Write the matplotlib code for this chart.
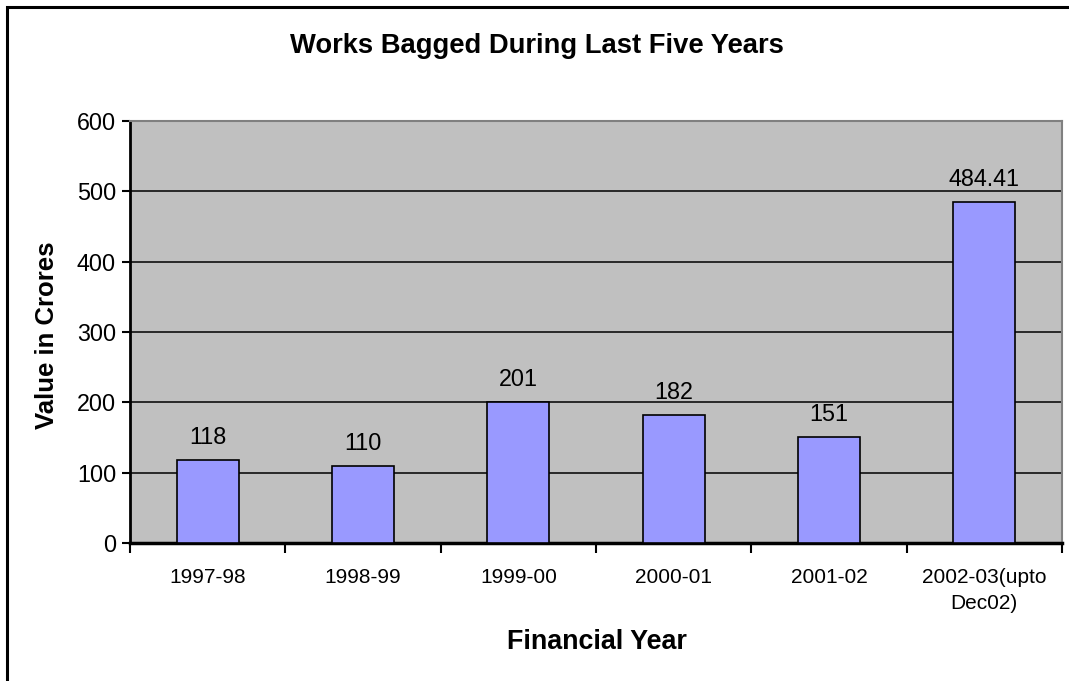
import matplotlib
matplotlib.use('Agg')
import matplotlib.pyplot as plt
from matplotlib.patches import Rectangle
from matplotlib.ticker import FixedLocator

years = ['1997-98', '1998-99', '1999-00', '2000-01', '2001-02', '2002-03(upto\nDec02)']
values = [118, 110, 201, 182, 151, 484.41]
value_labels = ['118', '110', '201', '182', '151', '484.41']
yticks = [0, 100, 200, 300, 400, 500, 600]

plt.rcParams['font.family'] = ['Liberation Sans', 'DejaVu Sans']

W, H = 1069, 681
fig = plt.figure(figsize=(W / 100, H / 100), dpi=100)
fig.patch.set_facecolor('white')

# outer chart border (cropped on right and bottom in the original)
fig.patches.append(Rectangle((6.5 / W, -0.05), 1.1, 1 - 7 / H + 0.05, transform=fig.transFigure,
                             fill=False, edgecolor='black', linewidth=2.2, zorder=0))

ax = fig.add_axes([130 / W, 1 - 543 / H, (1062 - 130) / W, (543 - 121) / H])
ax.set_facecolor('#C0C0C0')

x = list(range(len(years)))
ax.bar(x, values, width=0.4, color='#9999FF', edgecolor='black', linewidth=1.2, zorder=3)

for xi, v, lab in zip(x, values, value_labels):
    ax.annotate(lab, (xi, v), xytext=(0, 8), textcoords='offset points',
                ha='center', va='bottom', fontsize=16.8, zorder=4)

ax.set_xlim(-0.5, len(years) - 0.5)
ax.set_ylim(0, 600)
ax.set_yticks(yticks)
ax.tick_params(axis='y', labelsize=16.8, length=6, width=1.5, direction='out', pad=4)

# ticks at category boundaries, labels at centres
ax.xaxis.set_major_locator(FixedLocator([i - 0.5 for i in range(len(years) + 1)]))
ax.set_xticklabels([])
ax.set_xticks(x, minor=True)
ax.set_xticklabels(years, minor=True, fontsize=15, linespacing=1.45)
ax.tick_params(axis='x', which='major', length=7, width=1.5, direction='out')
ax.tick_params(axis='x', which='minor', length=0, pad=18)

ax.yaxis.grid(True, color='black', linewidth=1.1, zorder=1)
ax.set_axisbelow(True)

ax.spines['left'].set_linewidth(2)
ax.spines['bottom'].set_linewidth(2.5)
ax.spines['top'].set_color('#808080')
ax.spines['right'].set_color('#808080')
ax.spines['top'].set_linewidth(1.5)
ax.spines['right'].set_linewidth(1.5)

fig.text(537 / W, 1 - 46 / H, 'Works Bagged During Last Five Years', ha='center', va='center',
         fontsize=19.7, fontweight='bold')
fig.text(597 / W, 1 - 642 / H, 'Financial Year', ha='center', va='center',
         fontsize=19.4, fontweight='bold')
fig.text(47 / W, 1 - 335 / H, 'Value in Crores', ha='center', va='center', rotation=90,
         fontsize=18.5, fontweight='bold')

fig.savefig('out.png', dpi=100)
